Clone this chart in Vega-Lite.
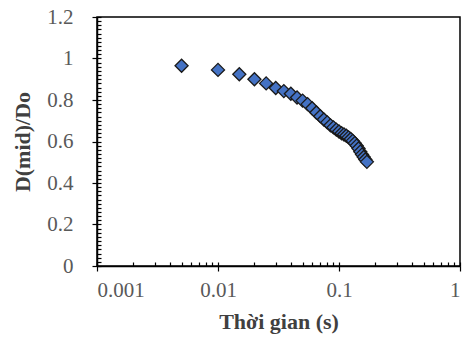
{
  "$schema": "https://vega.github.io/schema/vega-lite/v6.json",
  "width": 363,
  "height": 249,
  "autosize": {"type": "none"},
  "padding": {"left": 97, "top": 17, "right": 2, "bottom": 79},
  "background": "white",
  "config": {
    "view": {"stroke": "#000000", "strokeWidth": 1.5},
    "axis": {"grid": false, "domainColor": "#000000", "domainWidth": 1.5, "tickColor": "#000000", "tickWidth": 1.2,
      "labelFont": "Liberation Serif", "labelFontSize": 21, "labelColor": "#595959",
      "titleFont": "Liberation Serif", "titleFontSize": 22, "titleFontWeight": "bold", "titleColor": "#404040"}
  },
  "data": {"values": [
    {"t": 0.005, "d": 0.965}, {"t": 0.010, "d": 0.945}, {"t": 0.015, "d": 0.924}, {"t": 0.020, "d": 0.900},
    {"t": 0.025, "d": 0.880}, {"t": 0.030, "d": 0.858}, {"t": 0.035, "d": 0.843}, {"t": 0.040, "d": 0.830},
    {"t": 0.045, "d": 0.812}, {"t": 0.050, "d": 0.797}, {"t": 0.055, "d": 0.780}, {"t": 0.060, "d": 0.760},
    {"t": 0.065, "d": 0.740}, {"t": 0.070, "d": 0.722}, {"t": 0.075, "d": 0.706}, {"t": 0.080, "d": 0.692},
    {"t": 0.085, "d": 0.678}, {"t": 0.090, "d": 0.668}, {"t": 0.095, "d": 0.657}, {"t": 0.100, "d": 0.648},
    {"t": 0.105, "d": 0.640}, {"t": 0.110, "d": 0.634}, {"t": 0.115, "d": 0.628}, {"t": 0.120, "d": 0.620},
    {"t": 0.125, "d": 0.612}, {"t": 0.130, "d": 0.603}, {"t": 0.135, "d": 0.592}, {"t": 0.140, "d": 0.580},
    {"t": 0.145, "d": 0.566}, {"t": 0.150, "d": 0.551}, {"t": 0.155, "d": 0.537}, {"t": 0.160, "d": 0.525},
    {"t": 0.165, "d": 0.513}, {"t": 0.170, "d": 0.502}
  ]},
  "resolve": {"axis": {"x": "independent", "y": "independent"}},
  "layer": [
    {
      "mark": {"type": "point", "opacity": 0},
      "encoding": {
        "x": {"field": "t", "type": "quantitative",
          "scale": {"type": "log", "domain": [0.001, 1], "nice": false},
          "axis": {"orient": "bottom", "values": [0.002,0.003,0.004,0.005,0.006,0.007,0.008,0.009,0.02,0.03,0.04,0.05,0.06,0.07,0.08,0.09,0.2,0.3,0.4,0.5,0.6,0.7,0.8,0.9,0.001,0.01,0.1,1],
            "tickSize": -4, "labels": false, "domain": false, "title": null}},
        "y": {"field": "d", "type": "quantitative",
          "scale": {"domain": [0, 1.2], "nice": false, "zero": true},
          "axis": {"orient": "left", "values": [0,0.02,0.04,0.06,0.08,0.1,0.12,0.14,0.16,0.18,0.2,0.22,0.24,0.26,0.28,0.3,0.32,0.34,0.36,0.38,0.4,0.42,0.44,0.46,0.48,0.5,0.52,0.54,0.56,0.58,0.6,0.62,0.64,0.66,0.68,0.7,0.72,0.74,0.76,0.78,0.8,0.82,0.84,0.86,0.88,0.9,0.92,0.94,0.96,0.98,1,1.02,1.04,1.06,1.08,1.1,1.12,1.14,1.16,1.18,1.2],
            "tickSize": -4, "labels": false, "domain": false, "title": null}}
      }
    },
    {
      "mark": {"type": "point", "shape": "diamond", "filled": true, "size": 170, "color": "#4472C4", "stroke": "#1a1a1a", "strokeWidth": 1.3, "opacity": 1},
      "encoding": {
        "x": {"field": "t", "type": "quantitative",
          "scale": {"type": "log", "domain": [0.001, 1], "nice": false},
          "axis": {"orient": "bottom", "values": [0.001, 0.01, 0.1, 1], "format": "~g", "tickSize": 5,
            "labelPadding": 8, "title": "Thời gian (s)", "titlePadding": 11}},
        "y": {"field": "d", "type": "quantitative",
          "scale": {"domain": [0, 1.2], "nice": false, "zero": true},
          "axis": {"orient": "left", "values": [0, 0.2, 0.4, 0.6, 0.8, 1, 1.2], "format": "~g", "tickSize": 5,
            "labelPadding": 19, "title": "D(mid)/Do", "titlePadding": 12}}
      }
    }
  ]
}
